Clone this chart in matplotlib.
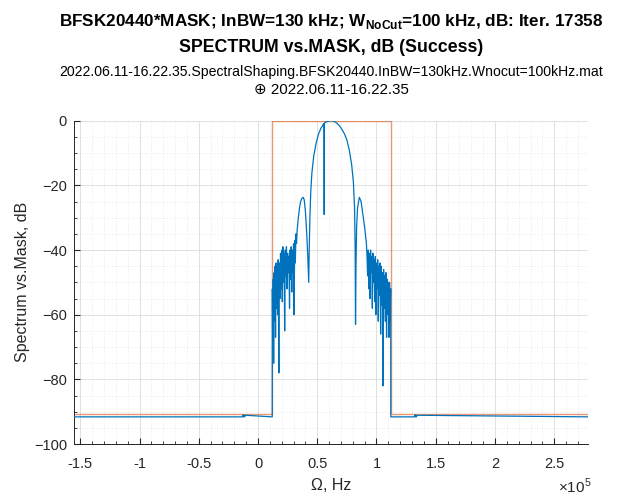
import numpy as np
import matplotlib
matplotlib.use("Agg")
import matplotlib.pyplot as plt
from matplotlib.ticker import MultipleLocator

plt.rcParams['font.family'] = ['Liberation Sans', 'DejaVu Sans']
plt.rcParams['mathtext.fontset'] = 'custom'
plt.rcParams['mathtext.rm'] = 'Liberation Sans'
plt.rcParams['mathtext.bf'] = 'Liberation Sans:bold'

# mask, kHz / dB
mask_f = [-155.3, 12.0, 12.0, 112.0, 112.0, 278.5]
mask_db = [-90.6, -90.6, 0, 0, -90.6, -90.6]

# spectrum floor left of the passband (with the small ripple near -11 kHz)
floor_left_f = [-155.3, -13.0, -12.6, -12.2, -11.8, -11.3, -10.8, 11.9]
floor_left_db = [-91.6, -91.6, -91.0, -91.6, -91.0, -91.6, -91.1, -91.6]

# lower noisy band
band_left_f = [12.0, 12.1, 12.4, 12.8, 13.2, 13.6, 14.0, 14.4, 14.8, 15.2,
               15.6, 16.0, 16.5, 17.0, 17.6, 18.0, 18.5, 19.0, 19.5, 20.0,
               20.5, 21.0, 21.5, 22.0, 22.5, 23.0, 23.5, 24.0, 24.5, 25.0,
               25.5, 26.0, 26.6, 27.0, 27.5, 28.0, 28.5, 29.0, 29.5, 30.0,
               30.4, 31.0, 31.5, 32.0, 32.5, 33.0]
band_left_db = [-91.6, -52, -70, -49, -75, -47, -62, -45, -67, -44,
                -58, -46, -60, -43, -78, -44, -55, -41, -52, -40,
                -56, -39, -50, -41, -65, -40, -48, -39, -52, -41,
                -47, -42, -58, -40, -49, -39, -53, -40, -47, -38,
                -60, -37, -44, -35, -38, -34]

# side lobes and main lobe
lobes_f = [34.0, 35.0, 36.0, 37.0, 38.2, 39.0, 40.0, 41.0, 42.0, 42.8,
           43.2, 43.8, 44.5, 45.5, 47.0, 49.0, 51.0, 53.0, 55.0, 55.8,
           55.85, 55.9, 57.0, 59.0, 61.0, 62.0, 63.0, 65.0, 67.0, 69.0,
           71.0, 73.0, 75.0, 77.0, 79.0, 80.5, 81.5, 82.0, 82.3, 82.7,
           83.2, 84.0, 85.5, 87.0, 88.5, 90.0, 91.5]
lobes_db = [-30, -27, -25, -24, -23.7, -24.5, -28, -34, -42, -50,
            -40, -30, -22, -16, -11, -7, -4.2, -2.4, -1.2, -0.8,
            -29, -0.8, -0.5, -0.2, -0.02, 0, -0.05, -0.35, -0.9, -1.7,
            -2.8, -4.1, -6, -9, -13.5, -19, -27, -40, -63, -45,
            -33, -27, -23.7, -25, -29, -33, -38]

# upper noisy band
band_right_f = [92.0, 92.5, 93.0, 93.5, 94.0, 94.5, 95.0, 95.5, 96.0, 96.5,
                97.0, 97.5, 98.0, 98.5, 99.0, 99.5, 100.0, 100.5, 101.0, 101.5,
                102.0, 102.5, 103.0, 103.5, 104.0, 104.5, 105.0, 105.5, 106.0, 106.5,
                107.0, 107.5, 108.0, 108.5, 109.0, 109.5, 110.0, 110.5, 111.0, 111.5,
                112.0, 112.05]
band_right_db = [-42, -48, -40, -52, -41, -55, -40, -47, -42, -58,
                 -41, -50, -43, -56, -42, -60, -44, -52, -43, -62,
                 -45, -54, -44, -66, -45, -57, -47, -82, -46, -58,
                 -48, -62, -47, -67, -49, -60, -50, -67, -50, -62,
                 -52, -91.6]

floor_right_f = [112.05, 132.0, 132.4, 132.8, 133.2, 133.7, 134.2, 278.5]
floor_right_db = [-91.6, -91.6, -91.0, -91.6, -91.0, -91.6, -91.1, -91.6]

spec_f = np.array(floor_left_f + band_left_f + lobes_f + band_right_f + floor_right_f) * 1e3
spec_db = np.array(floor_left_db + band_left_db + lobes_db + band_right_db + floor_right_db)

x_ticks = [-1.5, -1, -0.5, 0, 0.5, 1, 1.5, 2, 2.5]
y_ticks = [-100, -80, -60, -40, -20, 0]

fig = plt.figure(figsize=(6.24, 4.97), dpi=100)
ax = fig.add_axes([0.1186, 0.1066, 0.8237, 0.6505])

ax.plot(spec_f, spec_db, color='#0072BD', lw=0.9, zorder=3)
ax.plot(np.array(mask_f) * 1e3, mask_db, color='#D95319', lw=1.0, alpha=0.6, zorder=2)

ax.set_xlim(-155.3e3, 278.5e3)
ax.set_ylim(-100, 0)
ax.set_xticks([t * 1e5 for t in x_ticks])
ax.set_xticklabels([f"{t:g}" for t in x_ticks])
ax.set_yticks(y_ticks)
ax.xaxis.set_minor_locator(MultipleLocator(1e4))
ax.yaxis.set_minor_locator(MultipleLocator(5))

ax.grid(True, which='major', color='#dcdcdc', lw=0.6)
ax.grid(True, which='minor', color='#e4e4e4', lw=0.6, linestyle=(0, (1, 2)))
ax.set_axisbelow(True)
ax.spines['top'].set_visible(False)
ax.spines['right'].set_visible(False)
for s in ('left', 'bottom'):
    ax.spines[s].set_color('#262626')
    ax.spines[s].set_linewidth(0.7)
ax.tick_params(which='both', direction='in', colors='#262626', labelsize=10.5)
ax.tick_params(which='major', length=4)
ax.tick_params(which='minor', length=2)
ax.tick_params(axis='x', which='major', pad=9.5)
ax.tick_params(axis='y', which='major', pad=5)

ax.set_xlabel("Ω, Hz", fontsize=11.5, color='#262626', labelpad=5)
ax.set_ylabel("Spectrum vs.Mask, dB", fontsize=11.5, color='#262626', labelpad=3)
fig.text(0.948, 0.008, r"$\times10^{5}$", fontsize=11, color='#262626', ha='right')

cx = 0.1186 + 0.8237 / 2
fig.text(cx, 0.956, r"BFSK20440*MASK; InBW=130 kHz; W$_{\mathbf{NoCut}}$=100 kHz, dB: Iter. 17358",
         ha='center', va='center', fontsize=12.3, fontweight='bold')
fig.text(cx, 0.905, "SPECTRUM vs.MASK, dB (Success)", ha='center', va='center',
         fontsize=12.8, fontweight='bold')
fig.text(cx, 0.855, "2022.06.11-16.22.35.SpectralShaping.BFSK20440.InBW=130kHz.Wnocut=100kHz.mat",
         ha='center', va='center', fontsize=10.1)
fig.text(cx, 0.819, "⊕ 2022.06.11-16.22.35", ha='center', va='center', fontsize=10.9)

fig.savefig("out.png", dpi=100)
